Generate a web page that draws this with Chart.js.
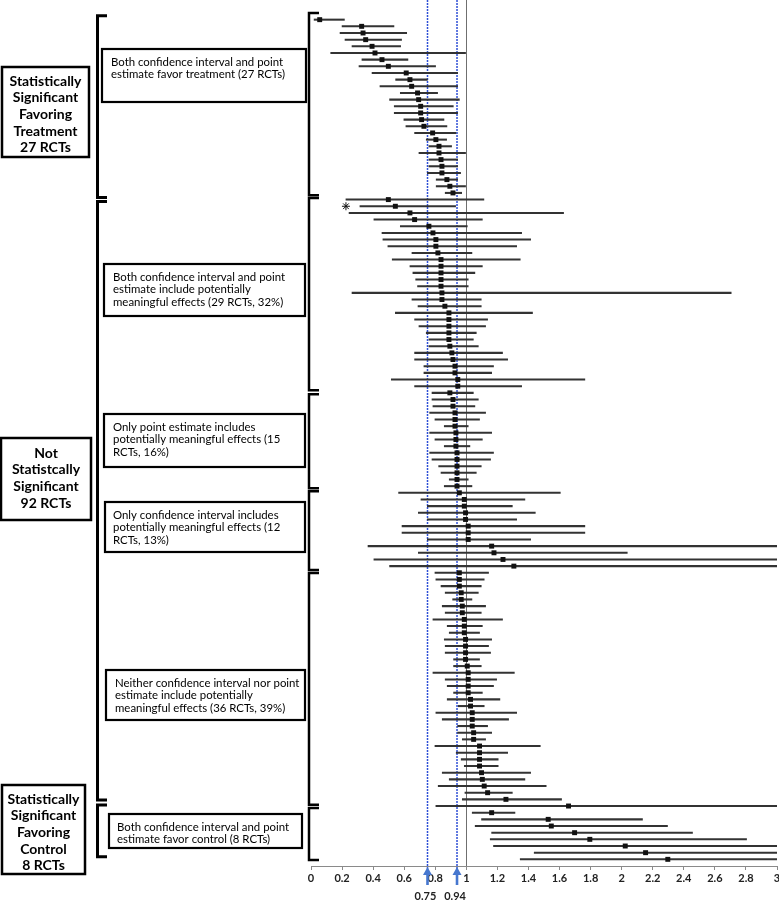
<!DOCTYPE html>
<html>
<head>
<meta charset="utf-8">
<title>Forest plot of RCT effect estimates</title>
<script src="https://cdn.jsdelivr.net/npm/chart.js@4.4.1/dist/chart.umd.min.js"></script>
<style>
  html, body { margin: 0; padding: 0; background: #fff; }
</style>
</head>
<body>
<canvas id="forest" width="779" height="901"></canvas>
<script>
// point estimates and confidence limits, one entry per RCT, top to bottom
const pointEst = [
  0.056, 0.326, 0.335, 0.352, 0.393, 0.412, 0.457, 0.498, 0.613, 0.637, 0.648, 0.686, 0.693, 0.706, 0.706, 0.712, 0.727, 0.783, 0.804, 0.824, 0.824, 0.837, 0.843, 0.843, 0.875, 0.894, 0.914,
  0.498, 0.543, 0.637, 0.667, 0.759, 0.785, 0.804, 0.804, 0.817, 0.837, 0.837, 0.837, 0.837, 0.837, 0.843, 0.843, 0.862, 0.888, 0.888, 0.888, 0.888, 0.888, 0.894, 0.907, 0.914, 0.927, 0.927, 0.945, 0.945,
  0.894, 0.914, 0.914, 0.927, 0.927, 0.927, 0.933, 0.933, 0.933, 0.94, 0.94, 0.94, 0.94, 0.94, 0.94,
  0.955, 0.987, 0.987, 0.995, 0.995, 1.012, 1.012, 1.012, 1.163, 1.178, 1.236, 1.306,
  0.955, 0.955, 0.955, 0.967, 0.967, 0.974, 0.974, 0.987, 0.987, 0.987, 0.995, 0.995, 0.995, 0.995, 1.006, 1.012, 1.012, 1.012, 1.012, 1.027, 1.027, 1.038, 1.038, 1.038, 1.047, 1.047, 1.085, 1.085, 1.085, 1.085, 1.098, 1.103, 1.115, 1.137, 1.255, 1.658,
  1.163, 1.527, 1.547, 1.697, 1.795, 2.023, 2.154, 2.297
];
const ciLow = [
  0.02, 0.2, 0.187, 0.219, 0.264, 0.127, 0.328, 0.309, 0.393, 0.545, 0.444, 0.575, 0.506, 0.536, 0.536, 0.598, 0.611, 0.667, 0.742, 0.759, 0.695, 0.759, 0.759, 0.749, 0.806, 0.806, 0.864,
  0.225, 0.315, 0.245, 0.405, 0.575, 0.457, 0.463, 0.495, 0.65, 0.523, 0.637, 0.656, 0.674, 0.686, 0.264, 0.65, 0.689, 0.543, 0.667, 0.695, 0.742, 0.759, 0.759, 0.667, 0.667, 0.727, 0.727, 0.517, 0.667,
  0.779, 0.779, 0.785, 0.764, 0.798, 0.858, 0.764, 0.798, 0.858, 0.764, 0.779, 0.822, 0.837, 0.89, 0.858,
  0.564, 0.708, 0.749, 0.691, 0.749, 0.586, 0.586, 0.749, 0.367, 0.691, 0.405, 0.506,
  0.798, 0.804, 0.837, 0.864, 0.912, 0.845, 0.864, 0.785, 0.877, 0.89, 0.858, 0.864, 0.864, 0.918, 0.918, 0.785, 0.864, 0.877, 0.918, 0.877, 0.948, 0.804, 0.845, 0.944, 0.944, 0.974, 0.798, 0.935, 0.967, 0.987, 0.845, 0.89, 0.819, 0.991, 0.974, 0.804,
  1.038, 1.098, 1.057, 1.163, 1.154, 1.175, 1.437, 1.347
];
const ciHigh = [
  0.215, 0.534, 0.616, 0.583, 0.577, 0.995, 0.624, 0.802, 0.944, 0.749, 0.944, 0.815, 0.955, 0.916, 0.944, 0.856, 0.875, 0.933, 0.873, 0.905, 0.995, 0.944, 0.944, 0.963, 0.944, 0.995, 0.97,
  1.113, 0.931, 1.626, 1.103, 1.006, 1.356, 1.414, 1.324, 1.036, 1.347, 1.103, 1.055, 1.012, 1.012, 2.705, 1.096, 1.096, 1.426, 1.137, 1.124, 1.064, 1.045, 1.077, 1.233, 1.266, 1.175, 1.163, 1.763, 1.356,
  1.045, 1.077, 1.055, 1.124, 1.085, 1.012, 1.163, 1.103, 1.023, 1.175, 1.156, 1.096, 1.064, 1.012, 1.036,
  1.605, 1.377, 1.296, 1.444, 1.324, 1.763, 1.763, 1.414, 3, 2.036, 3, 3,
  1.143, 1.115, 1.096, 1.077, 1.036, 1.124, 1.096, 1.233, 1.103, 1.085, 1.163, 1.143, 1.156, 1.085, 1.096, 1.309, 1.195, 1.175, 1.103, 1.216, 1.115, 1.324, 1.272, 1.137, 1.163, 1.124, 1.476, 1.266, 1.205, 1.205, 1.414, 1.377, 1.514, 1.296, 1.613, 3,
  1.313, 2.134, 2.295, 2.456, 2.804, 3, 3, 3
];
const asteriskRows = [29];
const asteriskX = [0.225];
const thresholds = [0.75, 0.94];
const nullValue = 1;
const rowIds = pointEst.map((_, i) => i + 1);

// left hand annotations (layout only)
const mainBrackets = [[0.4, 27.7], [28.3, 118.1], [118.85, 126.6]];
const subBrackets = [[0, 27.35], [27.75, 56.6], [57.2, 71.3], [71.75, 83.6], [84.05, 118.8], [119.3, 127.1]];
const mainBoxes = [
  { x: 2, y: 67, w: 87, h: 90, lines: ["Statistically", "Significant", "Favoring", "Treatment", "27 RCTs"], ty: 81 },
  { x: 1, y: 438, w: 90, h: 82, lines: ["Not", "Statistcally", "Significant", "92 RCTs"], ty: 453 },
  { x: 2, y: 785, w: 83, h: 89, lines: ["Statistically", "Significant", "Favoring", "Control", "8 RCTs"], ty: 799 }
];
const subBoxes = [
  { x: 102, y: 49, w: 204, h: 53, tx: 111, ty: 62, lines: ["Both confidence interval and point", "estimate favor treatment (27 RCTs)"] },
  { x: 104, y: 264, w: 201, h: 52, tx: 113, ty: 277, lines: ["Both confidence interval and point", "estimate include potentially", "meaningful effects (29 RCTs, 32%)"] },
  { x: 104, y: 414, w: 201, h: 53, tx: 113, ty: 427, lines: ["Only point estimate includes", "potentially meaningful effects (15", "RCTs, 16%)"] },
  { x: 105, y: 502, w: 200, h: 50, tx: 113, ty: 515, lines: ["Only confidence interval includes", "potentially meaningful effects (12", "RCTs, 13%)"] },
  { x: 106, y: 670, w: 199, h: 50, tx: 115, ty: 683, lines: ["Neither confidence interval nor point", "estimate include potentially", "meaningful effects (36 RCTs, 39%)"] },
  { x: 109, y: 814, w: 193, h: 34, tx: 117, ty: 827, lines: ["Both confidence interval and point", "estimate favor control (8 RCTs)"] }
];

const refLinesPlugin = {
  id: "refLines",
  beforeDatasetsDraw(chart) {
    const { ctx, chartArea, scales } = chart;
    ctx.save();
    const xn = scales.x.getPixelForValue(nullValue);
    ctx.strokeStyle = "#6f6f6f";
    ctx.lineWidth = 1;
    ctx.beginPath();
    ctx.moveTo(Math.round(xn) + 0.5, 0);
    ctx.lineTo(Math.round(xn) + 0.5, chartArea.bottom);
    ctx.stroke();
    ctx.strokeStyle = "#2e4fd6";
    ctx.lineWidth = 1.5;
    ctx.setLineDash([2, 1]);
    thresholds.forEach(v => {
      const x = scales.x.getPixelForValue(v);
      ctx.beginPath();
      ctx.moveTo(x, 0);
      ctx.lineTo(x, chartArea.bottom + 4);
      ctx.stroke();
    });
    ctx.restore();
  }
};

const annotationsPlugin = {
  id: "annotations",
  afterDraw(chart) {
    const { ctx, scales } = chart;
    const y = scales.y;
    ctx.save();
    // threshold arrows below the axis
    thresholds.forEach(v => {
      const x = scales.x.getPixelForValue(v);
      ctx.fillStyle = "#4677cf";
      ctx.beginPath();
      ctx.moveTo(x, 867);
      ctx.lineTo(x - 4.5, 875);
      ctx.lineTo(x + 4.5, 875);
      ctx.closePath();
      ctx.fill();
      ctx.fillRect(x - 1.3, 874, 2.6, 11);
      ctx.fillStyle = "#222";
      ctx.font = "bold 11px Lato, sans-serif";
      ctx.textAlign = "center";
      ctx.textBaseline = "middle";
      ctx.fillText(String(v), x - 2, 896);
    });

    ctx.strokeStyle = "#000";
    ctx.lineJoin = "miter";
    // big brackets
    ctx.lineWidth = 3;
    mainBrackets.forEach(([a, b]) => {
      const t = y.getPixelForValue(a), bt = y.getPixelForValue(b);
      ctx.beginPath();
      ctx.moveTo(107, t);
      ctx.lineTo(97.5, t);
      ctx.lineTo(97.5, bt);
      ctx.lineTo(107, bt);
      ctx.stroke();
    });
    // brackets next to the plot
    ctx.lineWidth = 2.5;
    subBrackets.forEach(([a, b]) => {
      const t = y.getPixelForValue(a), bt = y.getPixelForValue(b);
      ctx.beginPath();
      ctx.moveTo(319, t);
      ctx.lineTo(309, t);
      ctx.lineTo(309, bt);
      ctx.lineTo(319, bt);
      ctx.stroke();
    });

    // category boxes
    ctx.textBaseline = "middle";
    mainBoxes.forEach(b => {
      ctx.fillStyle = "#fff";
      ctx.fillRect(b.x, b.y, b.w, b.h);
      ctx.lineWidth = 2.5;
      ctx.strokeRect(b.x, b.y, b.w, b.h);
      ctx.fillStyle = "#000";
      ctx.font = "bold 14px Lato, sans-serif";
      ctx.textAlign = "center";
      b.lines.forEach((s, i) => ctx.fillText(s, b.x + b.w / 2, b.ty + i * 16.7));
    });
    subBoxes.forEach(b => {
      ctx.fillStyle = "#fff";
      ctx.fillRect(b.x, b.y, b.w, b.h);
      ctx.lineWidth = 2.2;
      ctx.strokeRect(b.x, b.y, b.w, b.h);
      ctx.fillStyle = "#000";
      ctx.font = "11.4px Lato, sans-serif";
      ctx.textAlign = "left";
      b.lines.forEach((s, i) => ctx.fillText(s, b.tx, b.ty + i * 12.8));
    });
    ctx.restore();
  }
};

const ctx = document.getElementById("forest").getContext("2d");
new Chart(ctx, {
  type: "scatter",
  data: {
    datasets: [
      {
        label: "Point estimate",
        data: rowIds.map((r, i) => ({ x: pointEst[i], y: r })),
        pointStyle: "rect",
        pointRadius: 3.5,
        backgroundColor: "#111",
        borderWidth: 0,
        order: 0
      },
      {
        label: "Marked",
        data: asteriskRows.map((r, i) => ({ x: asteriskX[i], y: r })),
        pointStyle: "star",
        pointRadius: 4,
        borderColor: "#111",
        borderWidth: 1,
        order: 0
      },
      {
        type: "bar",
        label: "95% CI",
        indexAxis: "y",
        data: rowIds.map((r, i) => ({ y: r, x: [ciLow[i], ciHigh[i]] })),
        backgroundColor: "#333",
        barThickness: 1.4,
        order: 1
      }
    ]
  },
  options: {
    responsive: false,
    animation: false,
    layout: { autoPadding: false, padding: { left: 311, right: 2, top: 13, bottom: 0 } },
    plugins: {
      legend: { display: false },
      tooltip: { enabled: false }
    },
    scales: {
      x: {
        type: "linear",
        min: 0,
        max: 3,
        offset: false,
        grid: { drawOnChartArea: false, offset: false, tickLength: 4, color: "#8a8a8a" },
        border: { color: "#8a8a8a", width: 1 },
        ticks: {
          stepSize: 0.2,
          padding: 2,
          color: "#222",
          font: { family: "Lato", size: 11, weight: "bold" },
          maxRotation: 0,
          autoSkip: false,
          callback: v => String(Math.round(v * 10) / 10)
        },
        afterFit(scale) {
          scale.height = 35;
          scale.paddingLeft = 0;
          scale.paddingRight = 0;
        }
      },
      y: {
        type: "linear",
        reverse: true,
        min: 0,
        max: 128,
        offset: false,
        display: false,
        grid: { offset: false }
      }
    }
  },
  plugins: [refLinesPlugin, annotationsPlugin]
});
</script>
</body>
</html>
